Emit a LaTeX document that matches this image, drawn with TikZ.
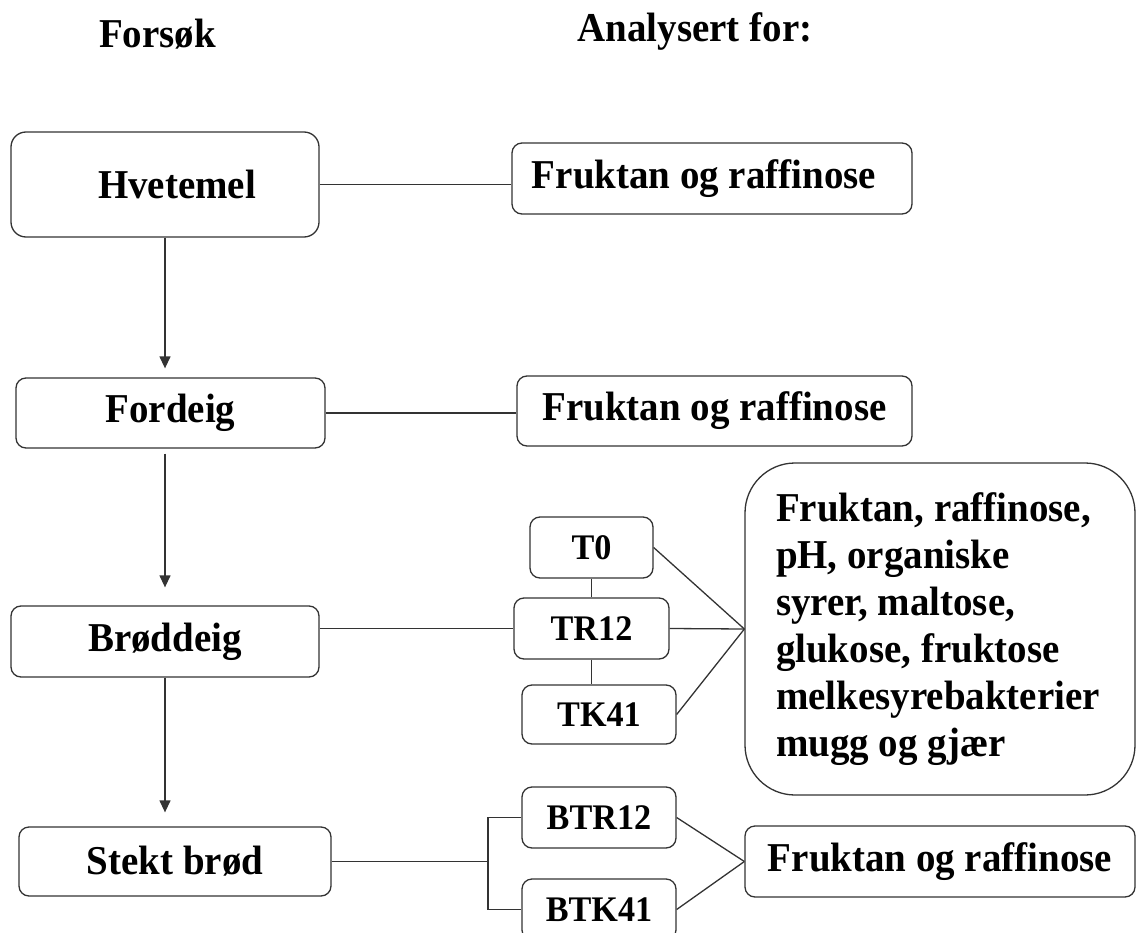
\documentclass[tikz,border=0pt]{standalone}
\usepackage{fontspec}
\setmainfont[FakeStretch=0.95]{Liberation Serif}
\usetikzlibrary{arrows.meta}
\newcommand\mytightspace{\spaceskip=0.24em\relax\xspaceskip=0.24em\relax}
\tikzset{
  ln/.style={draw=black!80, line width=1.3pt},
  box/.style={ln, rounded corners=10pt, inner sep=0pt, align=center,
    font=\fontsize{41}{47}\selectfont\bfseries},
  smallbox/.style={box, font=\fontsize{36}{40}\selectfont\bfseries},
  head/.style={font=\fontsize{41}{47}\selectfont\bfseries, inner sep=0pt},
  arr/.style={ln, -{Triangle[width=11pt,length=12pt]}},
}
\begin{document}
\begin{tikzpicture}[x=1pt,y=-1pt]
\useasboundingbox (0,0) rectangle (1137,933);
% headers
\node[head, anchor=base] (hforsok) at (157.5,48) {Forsøk};
\node[head, anchor=base] (hanalyse) at (695,42) {Analysert for:};
% left column
\node[box, rounded corners=15pt, minimum width=308pt, minimum height=105pt] (hvete) at (165,184.5) {\hspace*{24pt}Hvetemel};
\node[box, minimum width=309pt, minimum height=70pt] (fordeig) at (170.5,413) {Fordeig};
\node[box, minimum width=308pt, minimum height=71pt] (brod) at (165,641.5) {Brøddeig};
\node[box, minimum width=312pt, minimum height=69pt] (stekt) at (175,861.5) {Stekt brød};
% right column
\node[box, minimum width=400pt, minimum height=71pt] (f1) at (712,178.5) {Fruktan og raffinose\hspace*{16pt}};
\node[box, minimum width=395pt, minimum height=70pt] (f2) at (714.5,411) {Fruktan og raffinose};
\node[smallbox, minimum width=123pt, minimum height=61pt] (t0) at (591.5,547.5) {T0};
\node[smallbox, minimum width=155pt, minimum height=61pt] (tr12) at (591.5,628.5) {TR12};
\node[smallbox, minimum width=154pt, minimum height=59pt] (tk41) at (599,714.5) {TK41};
\node[box, rounded corners=50pt, minimum width=390pt, minimum height=332pt,
      inner xsep=31pt, text width=328pt, align=left] (big) at (940,629)
  {\mytightspace Fruktan, raffinose,\\pH, organiske\\syrer, maltose,\\glukose, fruktose\\melkesyrebakterier\\mugg og gjær};
\node[smallbox, minimum width=154pt, minimum height=61pt] (btr12) at (599,817.5) {BTR12};
\node[smallbox, minimum width=154pt, minimum height=61pt] (btk41) at (599,909.5) {BTK41};
\node[box, minimum width=390pt, minimum height=71pt] (f3) at (940,861.5) {Fruktan og raffinose};
% flow arrows
\draw[arr, shorten >=9pt] (hvete.south) -- (hvete.south |- fordeig.north);
\draw[arr, shorten <=5pt, shorten >=18pt] (fordeig.south -| brod.north) -- (brod.north);
\draw[arr, shorten >=14pt] (brod.south) -- (brod.south |- stekt.north);
% connectors
\draw[ln] (hvete.east) -- (hvete.east -| f1.west);
\draw[ln] (fordeig.east) -- (fordeig.east -| f2.west);
\draw[ln] (brod.east |- tr12.west) -- (tr12.west);
\draw[ln] (t0.south) -- (t0.south |- tr12.north);
\draw[ln] (tr12.south) -- (tr12.south |- tk41.north);
\draw[ln] (t0.east) -- (big.west);
\draw[ln] (tr12.east) -- (big.west);
\draw[ln] (tk41.east) -- (big.west);
\coordinate (split) at (488,861.5);
\draw[ln] (stekt.east) -- (split);
\draw[ln] (btr12.west) -| (split) |- (btk41.west);
\draw[ln] (btr12.east) -- (f3.west);
\draw[ln] (btk41.east) -- (f3.west);
\end{tikzpicture}
\end{document}
